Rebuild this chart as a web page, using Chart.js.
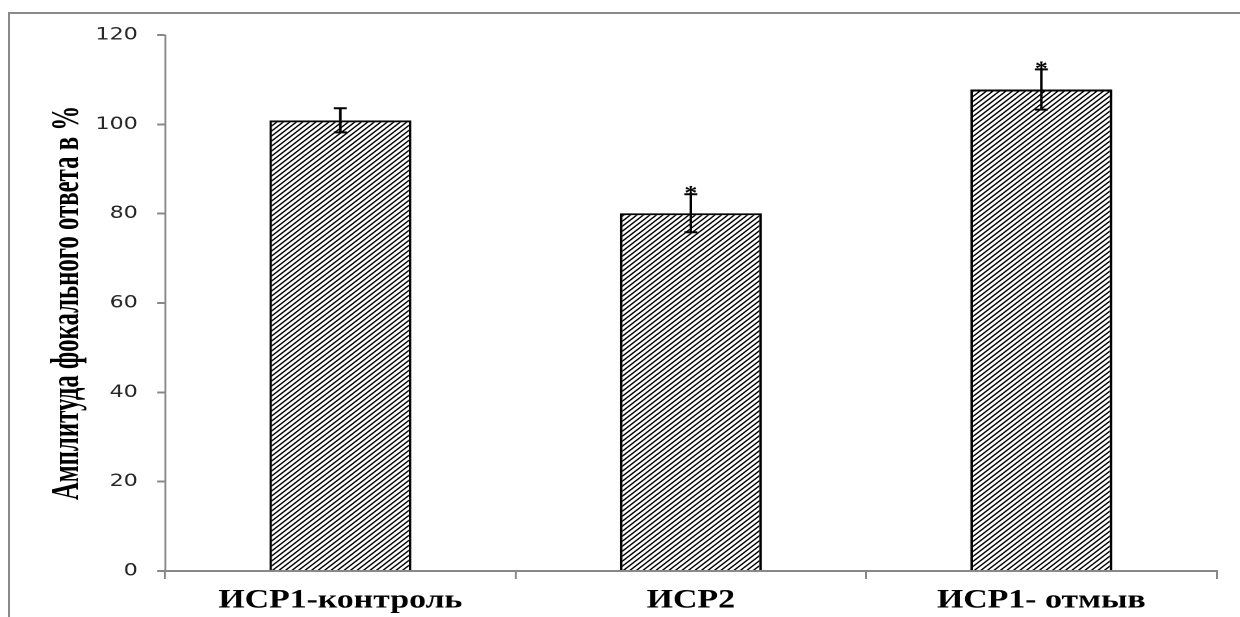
<!DOCTYPE html>
<html>
<head>
<meta charset="utf-8">
<script src="https://cdn.jsdelivr.net/npm/chart.js@4.4.1/dist/chart.umd.min.js"></script>
<style>
    html, body { margin: 0; padding: 0; background: #fff; overflow: hidden; }
    #frame {
        position: absolute; left: 8px; top: 12px; right: -10px; bottom: -10px;
        border-left: 2px solid #8a8a8a; border-top: 2px solid #8a8a8a;
    }
    /* the original figure is stretched sideways, so draw narrow and widen */
    #wrap {
        position: absolute; left: 0; top: 0; width: 954px; height: 617px;
        transform: scaleX(1.2998); transform-origin: 0 0;
    }
</style>
</head>
<body>
<div id="frame"></div>
<div id="wrap"><canvas id="amplitudeChart"></canvas></div>
<script>
// Data
const categories = ['ИСР1-контроль', 'ИСР2', 'ИСР1- отмыв'];
const meanValues = [100.9, 80.1, 107.8];
const errorValues = [2.7, 4.25, 4.5];
const significance = ['', '*', '*'];
const yTitle = 'Амплитуда фокального ответа в %';
const yMin = 0;
const yMax = 120;
const yStep = 20;

function makeHatch() {
    // tile is drawn at 2x and scaled back down
    const tile = document.createElement('canvas');
    tile.width = 10;
    tile.height = 10;
    const c = tile.getContext('2d');
    c.fillStyle = '#fff';
    c.fillRect(0, 0, 10, 10);
    c.strokeStyle = '#000';
    c.lineWidth = 2.6;
    c.beginPath();
    c.moveTo(-2, 12); c.lineTo(12, -2);
    c.moveTo(-2, 2); c.lineTo(2, -2);
    c.moveTo(8, 12); c.lineTo(12, 8);
    c.stroke();
    const pattern = c.createPattern(tile, 'repeat');
    pattern.setTransform(new DOMMatrix([0.5, 0, 0, 0.5, 0, 0]));
    return pattern;
}

// Error bars and significance marks
const errorBarPlugin = {
    id: 'errorBars',
    afterDatasetsDraw(chart) {
        const ctx = chart.ctx;
        const yScale = chart.scales.y;
        const meta = chart.getDatasetMeta(0);
        ctx.save();
        ctx.strokeStyle = '#000';
        ctx.fillStyle = '#000';
        ctx.lineWidth = 2;
        meta.data.forEach((bar, i) => {
            const top = yScale.getPixelForValue(meanValues[i] + errorValues[i]);
            const bottom = yScale.getPixelForValue(meanValues[i] - errorValues[i]);
            ctx.beginPath();
            ctx.moveTo(bar.x, top);
            ctx.lineTo(bar.x, bottom);
            ctx.moveTo(bar.x - 5, top);
            ctx.lineTo(bar.x + 5, top);
            ctx.moveTo(bar.x - 5, bottom);
            ctx.lineTo(bar.x + 5, bottom);
            ctx.stroke();
            if (significance[i]) {
                ctx.font = 'bold 20px "Liberation Serif"';
                ctx.textAlign = 'center';
                ctx.textBaseline = 'alphabetic';
                ctx.fillText(significance[i], bar.x, top + 5);
            }
        });
        ctx.restore();
    }
};

// Condensed rotated axis title
const yTitlePlugin = {
    id: 'yTitle',
    afterDraw(chart) {
        const ctx = chart.ctx;
        const area = chart.chartArea;
        ctx.save();
        ctx.translate(60, (area.top + area.bottom) / 2);
        ctx.rotate(-Math.PI / 2);
        ctx.scale(0.8, 1);
        ctx.font = 'bold 31px "Liberation Serif"';
        ctx.fillStyle = '#000';
        ctx.textAlign = 'center';
        ctx.textBaseline = 'alphabetic';
        ctx.fillText(yTitle, 0, 0);
        ctx.restore();
    }
};

document.addEventListener('DOMContentLoaded', function() {
    const canvas = document.getElementById('amplitudeChart');
    canvas.width = 954;
    canvas.height = 617;

    new Chart(canvas, {
        type: 'bar',
        data: {
            labels: categories,
            datasets: [{
                data: meanValues,
                backgroundColor: makeHatch(),
                borderColor: '#000',
                borderWidth: 2,
                barPercentage: 0.405,
                categoryPercentage: 1.0
            }]
        },
        options: {
            responsive: false,
            animation: false,
            devicePixelRatio: 2,
            layout: {
                padding: { left: 0, top: 35, right: 18, bottom: 0 }
            },
            plugins: {
                legend: { display: false },
                tooltip: { enabled: false },
                title: { display: false }
            },
            scales: {
                y: {
                    min: yMin,
                    max: yMax,
                    afterFit(scale) { scale.width = 127; },
                    ticks: {
                        stepSize: yStep,
                        padding: 15,
                        color: '#262626',
                        font: { family: '"DejaVu Sans"', size: 17 }
                    },
                    grid: {
                        drawOnChartArea: false,
                        tickLength: 6,
                        color: '#888',
                        lineWidth: 2
                    },
                    border: { color: '#888', width: 1.5 }
                },
                x: {
                    afterFit(scale) { scale.height = 46; },
                    ticks: {
                        padding: 6,
                        color: '#000',
                        font: { family: '"Liberation Serif"', size: 26, weight: 'bold' }
                    },
                    grid: {
                        offset: true,
                        drawOnChartArea: false,
                        tickLength: 8,
                        color: '#888',
                        lineWidth: 1.5
                    },
                    border: { color: '#888', width: 2 }
                }
            }
        },
        plugins: [errorBarPlugin, yTitlePlugin]
    });
});
</script>
</body>
</html>
